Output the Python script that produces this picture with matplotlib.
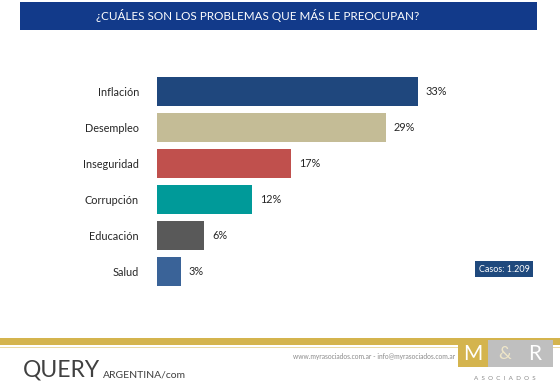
import matplotlib
matplotlib.use('Agg')
import matplotlib.pyplot as plt
from matplotlib.patches import Rectangle

plt.rcParams['font.family'] = ['Lato', 'DejaVu Sans']

categories = ['Inflación', 'Desempleo', 'Inseguridad', 'Corrupción', 'Educación', 'Salud']
values = [33, 29, 17, 12, 6, 3]
colors = ['#1f477d', '#c4bc96', '#c0504d', '#009a99', '#595959', '#3a6398']
title = '¿CUÁLES SON LOS PROBLEMAS QUE MÁS LE PREOCUPAN?'
casos = 'Casos: 1.209'

W, H = 560, 388
fig = plt.figure(figsize=(W / 100, H / 100), dpi=100)
fig.patch.set_facecolor('white')

# cinta del título
fig.patches.append(Rectangle((20 / W, 1 - 30 / H), 517 / W, 28 / H,
                             transform=fig.transFigure, facecolor='#123a8a',
                             edgecolor='none'))
fig.text(258 / W, 1 - 16 / H, title, color='white', fontsize=8.4,
         ha='center', va='center')

ax = fig.add_axes([157 / W, 0.2549, 0.564, 0.555])
ypos = list(range(len(categories)))
ax.barh(ypos, values, height=0.8, color=colors)
for y, v in zip(ypos, values):
    ax.text(v + 1.0, y, f'{v}%', va='center', ha='left', fontsize=7.8,
            color='#262626')
ax.set_yticks(ypos)
ax.set_yticklabels(categories, fontsize=7.8, color='#262626')
ax.set_ylim(len(categories) - 0.5, -0.5)
ax.set_xlim(0, 40)
ax.set_xticks([])
ax.tick_params(axis='y', length=0, pad=13)
for s in ax.spines.values():
    s.set_visible(False)

# casos
fig.text(504 / W, 1 - 269 / H, casos, color='white', fontsize=6.5,
         ha='center', va='center',
         bbox=dict(boxstyle='square,pad=0.35', facecolor='#1f497d',
                   edgecolor='none'))

# pie de página
fig.patches.append(Rectangle((0, 1 - 345 / H), 1, 7 / H,
                             transform=fig.transFigure, facecolor='#d4b44e',
                             edgecolor='none'))
fig.patches.append(Rectangle((0, 1 - 348 / H), 1, 1.5 / H,
                             transform=fig.transFigure, facecolor='#eadba6',
                             edgecolor='none'))
fig.text(455 / W, 1 - 357 / H,
         'www.myrasociados.com.ar - info@myrasociados.com.ar',
         color='#8a8a8a', fontsize=4.8, ha='right', va='center')

# logo M&R
fig.patches.append(Rectangle((458 / W, 1 - 367 / H), 30 / W, 27 / H,
                             transform=fig.transFigure, facecolor='#d4b44e',
                             edgecolor='none'))
fig.patches.append(Rectangle((488 / W, 1 - 367 / H), 65 / W, 27 / H,
                             transform=fig.transFigure, facecolor='#bfbfbf',
                             edgecolor='none'))
fig.text(473 / W, 1 - 354 / H, 'M', color='white', fontsize=15,
         ha='center', va='center')
fig.text(505 / W, 1 - 354 / H, '&', color='#efe6c8', fontsize=13,
         ha='center', va='center')
fig.text(535 / W, 1 - 354 / H, 'R', color='white', fontsize=15,
         ha='center', va='center')
fig.text(505 / W, 1 - 379 / H, 'A  S  O  C  I  A  D  O  S', color='#8a8a8a',
         fontsize=4.5, ha='center', va='center')

# logo QUERY
fig.text(23 / W, 1 - 370 / H, 'QUERY', color='#404040', fontsize=16.5,
         ha='left', va='center')
fig.text(103 / W, 1 - 375 / H, 'ARGENTINA/com', color='#404040', fontsize=7.5,
         ha='left', va='center')

fig.savefig('out.png', dpi=100)
